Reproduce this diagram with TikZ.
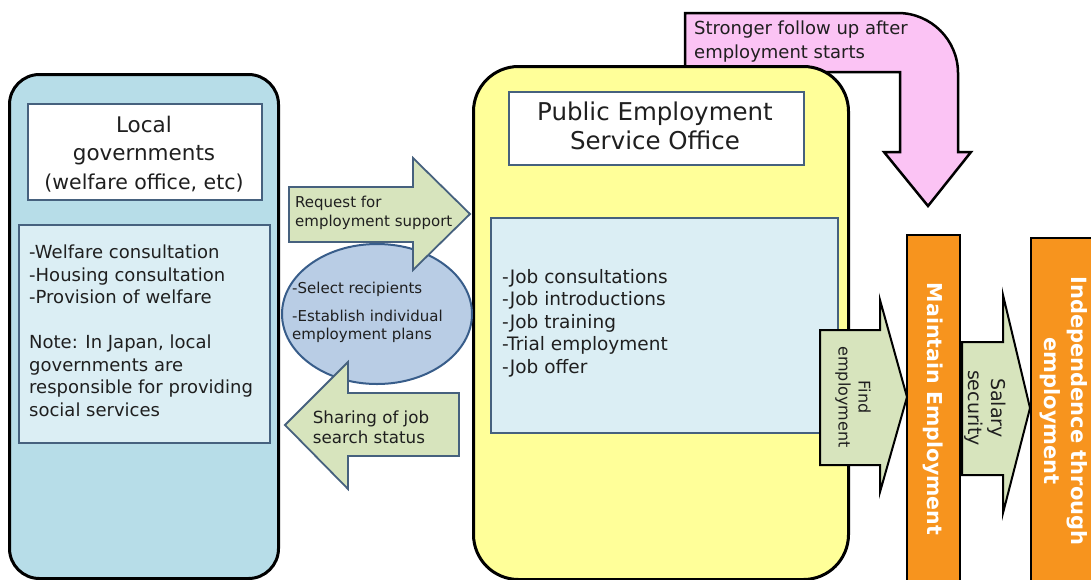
\documentclass[tikz,border=0pt]{standalone}
\usepackage{fontspec}
\usetikzlibrary{shapes.geometric}
\setmainfont{DejaVu Sans}
\definecolor{lgblue}{HTML}{B7DDE8}
\definecolor{lgin}{HTML}{DBEEF4}
\definecolor{boxedge}{HTML}{46617E}
\definecolor{yel}{HTML}{FFFF99}
\definecolor{ellfill}{HTML}{B9CDE5}
\definecolor{elledge}{HTML}{385D8A}
\definecolor{agreen}{HTML}{D7E4BD}
\definecolor{pinkc}{HTML}{FBC3F4}
\definecolor{orangec}{HTML}{F7941E}
\begin{document}
\begin{tikzpicture}[x=1pt,y=-1pt,
  bigbox/.style={draw=black, line width=3pt, anchor=north west, inner sep=0pt},
  inbox/.style={draw=boxedge, line width=2pt, anchor=north west, inner sep=0pt},
  garrow/.style={fill=agreen, draw=boxedge, line width=1.8pt, line join=miter},
  karrow/.style={fill=agreen, draw=black, line width=2pt, line join=miter},
  bar/.style={fill=orangec, draw=black, line width=2pt, anchor=north west, inner sep=0pt},
  txt/.style={inner sep=0pt, text=black!88}
]
\clip (0,0) rectangle (1091,579);
\fill[white] (0,0) rectangle (1091,579);

% left: local governments
\node[bigbox, rounded corners=30pt, fill=lgblue, minimum width=269pt, minimum height=504pt] (lg) at (8,73) {};
\node[inbox, fill=white, minimum width=234pt, minimum height=96pt] (lgtitle) at (27,103) {};
\node[inbox, fill=lgin, minimum width=251pt, minimum height=218pt] (lgbody) at (18,224) {};
\node[txt, align=center, font=\fontsize{21.5}{28.5}\selectfont] (lgt1) at (144,154) {Local\\governments\\{\fontsize{20.5}{27}\selectfont(welfare office, etc)}};
\node[txt, align=left, anchor=west, font=\fontsize{18}{22.5}\selectfont] (lglist) at (29,331)
 {-Welfare consultation\\-Housing consultation\\-Provision of welfare\\[22.5pt]Note: In Japan, local\\governments are\\responsible for providing\\social services};

% pink follow-up arrow
\draw[fill=pinkc, line width=2.5pt, line join=miter] (685,13) -- (898,13) .. controls (931,13) and (958,40) .. (958,73) -- (958,152) -- (971,152) -- (928,206) -- (884,152) -- (900,152) -- (900,72) -- (685,72) -- cycle;
\node[txt, align=left, anchor=west, font=\fontsize{18}{24}\selectfont] (pinkt) at (694,42) {Stronger follow up after\\employment starts};

% public employment service office
\node[bigbox, rounded corners=45pt, fill=yel, minimum width=375pt, minimum height=513pt] (pes) at (472,65) {};
\node[inbox, fill=white, minimum width=295pt, minimum height=73pt] (pestitle) at (508,91) {};
\node[inbox, fill=lgin, minimum width=347pt, minimum height=215pt] (pesbody) at (490,217) {};
\node[txt, align=center, font=\fontsize{24.5}{29}\selectfont] (pest) at (655,126) {Public Employment\\Service Office};
\node[txt, align=left, anchor=west, font=\fontsize{18.5}{22.5}\selectfont] (peslist) at (502,323)
 {-Job consultations\\-Job introductions\\-Job training\\-Trial employment\\-Job offer};

% ellipse and middle arrows
\node[draw=elledge, fill=ellfill, line width=2pt, ellipse, minimum width=190pt, minimum height=140pt] (ell) at (377,314) {};
\node[txt, align=left, anchor=west, font=\fontsize{15}{18}\selectfont] (ellt) at (292,312) {-Select recipients\\[10pt]-Establish individual\\employment plans};
\draw[garrow] (289,187) -- (413,187) -- (413,158) -- (470,214) -- (413,270) -- (413,242) -- (289,242) -- cycle;
\node[txt, align=left, anchor=west, font=\fontsize{15}{19}\selectfont] (reqt) at (295,213) {Request for\\employment support};
\draw[garrow] (459,393) -- (348,393) -- (348,362) -- (285,425) -- (348,489) -- (348,456) -- (459,456) -- cycle;
\node[txt, align=left, font=\fontsize{16.7}{20}\selectfont] (sharet) at (371,427) {Sharing of job\\search status};

% orange bars
\node[bar, minimum width=53pt, minimum height=400pt] (maint) at (906,234) {};
\node[bar, minimum width=90pt, minimum height=400pt] (indep) at (1030,237) {};
\node[rotate=-90, inner sep=0pt, text=white, font=\bfseries\fontsize{20.5}{25}\selectfont] (maintt) at (933,409) {Maintain Employment};
\node[rotate=-90, inner sep=0pt, align=center, text=white, font=\bfseries\fontsize{21}{27}\selectfont] (indept) at (1064,411) {Independence through\\employment};

% right arrows
\draw[karrow] (820,330) -- (880,330) -- (880,300) -- (907,397) -- (880,492) -- (880,465) -- (820,465) -- cycle;
\node[txt, rotate=-90, align=center, font=\fontsize{16}{20}\selectfont] (findt) at (853,397) {Find\\employment};
\draw[karrow] (962,342) -- (1003,342) -- (1003,295) -- (1030,408) -- (1003,513) -- (1003,475) -- (962,475) -- cycle;
\node[txt, rotate=-90, align=center, font=\fontsize{19}{23}\selectfont] (salt) at (985,408) {Salary\\security};
\end{tikzpicture}
\end{document}
